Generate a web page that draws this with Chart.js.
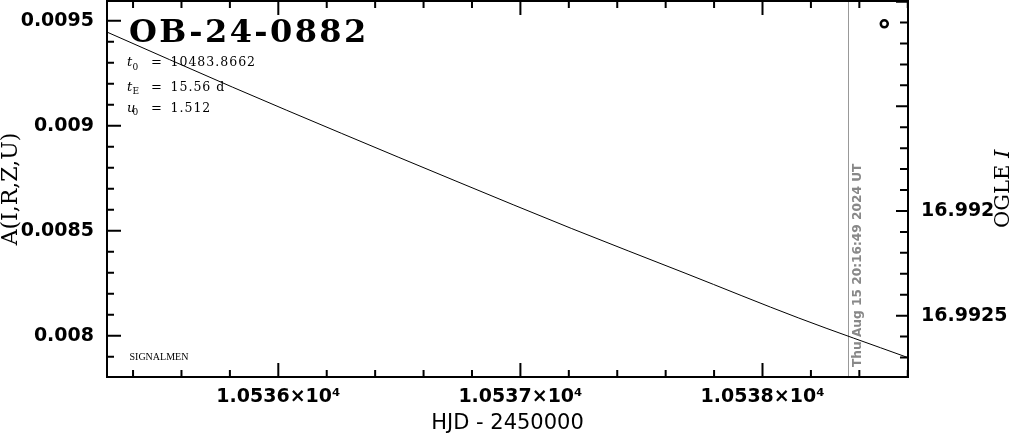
<!DOCTYPE html>
<html>
<head>
<meta charset="utf-8">
<script src="https://cdn.jsdelivr.net/npm/chart.js@4/dist/chart.umd.min.js"></script>
<style>
  html, body { margin: 0; padding: 0; background: #fff; }
  #wrap { width: 1011px; height: 434px; }
</style>
</head>
<body>
<div id="wrap"><canvas id="lc" width="1011" height="434"></canvas></div>
<script>
// model light curve (HJD - 2450000 vs A)
const hjd = [10535.29, 10535.81, 10536.26, 10536.73, 10537.21, 10537.68, 10538.15, 10538.60];
const amp = [0.009447, 0.009184, 0.008964, 0.008738, 0.008511, 0.008298, 0.008084, 0.007896];

// the single OGLE point in the window
const obsHjd = [10538.503];
const obsAmp = [0.009485];

// time of the plot (grey marker)
const nowHjd = 10538.354;
const nowLabel = 'Thu Aug 15 20:16:49 2024 UT';

// axes
const xMajor = [10536, 10537, 10538];
const xLabels = ['1.0536×10⁴', '1.0537×10⁴', '1.0538×10⁴'];
const yMajor = [0.008, 0.0085, 0.009, 0.0095];
const yLabels = ['0.008', '0.0085', '0.009', '0.0095'];
const magMajor = [16.992, 16.9925];
const magLabels = ['16.992', '16.9925'];

const eventName = 'OB-24-0882';
const params = [
  { sym: 't', sub: '0', val: '10483.8662' },
  { sym: 't', sub: 'E', val: '15.56 d' },
  { sym: 'u', sub: '0', val: '1.512' },
];

Chart.defaults.font.family = '"DejaVu Sans"';
Chart.defaults.color = '#000';

const tickFont = { family: '"DejaVu Sans"', size: 19, weight: 'bold' };

// no overhang padding, so the plot box fills the given area
const noPad = s => { s.paddingTop = 0; s.paddingBottom = 0; s.paddingLeft = 0; s.paddingRight = 0; };

// pgplot-like frame, inward ticks and annotations
const framePlugin = {
  id: 'frame',
  beforeDatasetsDraw(chart) {
    const { ctx, chartArea: a, scales } = chart;
    const xp = scales.x.getPixelForValue(nowHjd);
    ctx.save();
    ctx.strokeStyle = '#999';
    ctx.lineWidth = 1;
    ctx.beginPath();
    ctx.moveTo(Math.round(xp) + 0.5, a.top);
    ctx.lineTo(Math.round(xp) + 0.5, a.bottom);
    ctx.stroke();

    ctx.translate(xp + 12.5, a.bottom - 10);
    ctx.rotate(-Math.PI / 2);
    ctx.fillStyle = '#888';
    ctx.font = 'bold 12.2px "DejaVu Sans"';
    ctx.textBaseline = 'alphabetic';
    ctx.textAlign = 'left';
    ctx.fillText(nowLabel, 0, 0);
    ctx.restore();
  },
  afterDraw(chart) {
    const { ctx, chartArea: a, scales } = chart;
    const x = scales.x, y = scales.y, m = scales.mag;
    ctx.save();
    ctx.strokeStyle = '#000';
    ctx.lineWidth = 2;
    ctx.strokeRect(a.left, a.top, a.right - a.left, a.bottom - a.top);

    ctx.beginPath();
    // x ticks, top and bottom
    for (let i = Math.ceil(x.min / 0.2); i * 0.2 <= x.max; i++) {
      const v = i * 0.2;
      const major = Math.abs(v - Math.round(v)) < 1e-6;
      const len = major ? 14 : 7;
      const p = x.getPixelForValue(v);
      ctx.moveTo(p, a.bottom); ctx.lineTo(p, a.bottom - len);
      ctx.moveTo(p, a.top); ctx.lineTo(p, a.top + len);
    }
    // left ticks
    for (let i = Math.ceil(y.min / 0.0001); i * 0.0001 <= y.max; i++) {
      const v = i * 0.0001;
      const major = i % 5 === 0;
      const p = y.getPixelForValue(v);
      ctx.moveTo(a.left, p); ctx.lineTo(a.left + (major ? 14 : 7), p);
    }
    // right ticks (magnitude)
    for (let i = Math.ceil(m.min / 0.0001 - 1e-6); i * 0.0001 <= m.max; i++) {
      const v = i * 0.0001;
      const major = i % 5 === 0;
      const p = m.getPixelForValue(v);
      ctx.moveTo(a.right, p); ctx.lineTo(a.right - (major ? 12 : 8), p);
    }
    ctx.stroke();

    // event name
    ctx.fillStyle = '#000';
    ctx.textBaseline = 'alphabetic';
    ctx.textAlign = 'left';
    ctx.font = 'bold 32px "DejaVu Serif"';
    ctx.letterSpacing = '2.4px';
    ctx.fillText(eventName, 129, 42);

    // fit parameters
    const rows = [66, 90.5, 111.5];
    params.forEach((p, i) => {
      const b = rows[i];
      ctx.letterSpacing = '0px';
      ctx.font = 'italic 13px "DejaVu Serif"';
      ctx.fillText(p.sym, 127, b);
      ctx.font = '9px "DejaVu Serif"';
      ctx.fillText(p.sub, 132.5, b + 3.5);
      ctx.font = '13px "DejaVu Serif"';
      ctx.fillText('=', 151, b);
      ctx.letterSpacing = '1px';
      ctx.font = '12.5px "DejaVu Serif"';
      ctx.fillText(p.val, 170.5, b);
    });
    ctx.letterSpacing = '0px';

    ctx.font = '10px "Liberation Serif"';
    ctx.fillText('SIGNALMEN', 129.5, 359.5);

    // right axis title
    ctx.save();
    ctx.translate(1009, 228);
    ctx.rotate(-Math.PI / 2);
    ctx.font = '21px "DejaVu Serif"';
    ctx.fillText('OGLE ', 0, 0);
    const w = ctx.measureText('OGLE ').width;
    ctx.font = 'italic 21px "DejaVu Serif"';
    ctx.fillText('I', w, 0);
    ctx.restore();

    ctx.restore();
  }
};

new Chart(document.getElementById('lc'), {
  type: 'line',
  data: {
    datasets: [
      {
        label: 'model',
        data: hjd.map((t, i) => ({ x: t, y: amp[i] })),
        borderColor: '#000',
        borderWidth: 1,
        pointRadius: 0,
        fill: false,
        cubicInterpolationMode: 'monotone',
        yAxisID: 'y',
      },
      {
        label: 'OGLE',
        type: 'scatter',
        data: obsHjd.map((t, i) => ({ x: t, y: obsAmp[i] })),
        borderColor: '#000',
        backgroundColor: '#fff',
        borderWidth: 2.5,
        pointRadius: 3.5,
        pointStyle: 'circle',
        yAxisID: 'y',
      },
    ],
  },
  options: {
    responsive: false,
    animation: false,
    events: [],
    layout: { autoPadding: false, padding: { top: 1, left: 0, right: 0, bottom: 0 } },
    plugins: { legend: { display: false }, tooltip: { enabled: false } },
    scales: {
      x: {
        type: 'linear',
        position: 'bottom',
        min: 10535.2924,
        max: 10538.601,
        bounds: 'data',
        grid: { display: false, drawTicks: false },
        border: { display: false },
        afterBuildTicks: s => { s.ticks = xMajor.map(v => ({ value: v })); },
        afterFit: s => { s.height = 57; noPad(s); },
        ticks: {
          font: tickFont,
          padding: 9,
          maxRotation: 0,
          autoSkip: false,
          callback: v => xLabels[xMajor.indexOf(v)] ?? '',
        },
        title: {
          display: true,
          text: 'HJD - 2450000',
          font: { family: '"DejaVu Sans"', size: 21, lineHeight: 1 },
          padding: { top: 0, bottom: 0 },
        },
      },
      y: {
        type: 'linear',
        position: 'left',
        min: 0.0078033,
        max: 0.0095938,
        bounds: 'data',
        grid: { display: false, drawTicks: false },
        border: { display: false },
        afterBuildTicks: s => { s.ticks = yMajor.map(v => ({ value: v })); },
        afterFit: s => { s.width = 107; noPad(s); },
        ticks: {
          font: tickFont,
          padding: 13,
          autoSkip: false,
          callback: v => yLabels[yMajor.indexOf(v)] ?? '',
        },
        title: {
          display: true,
          text: 'A(I,R,Z,U)',
          font: { family: '"DejaVu Serif"', size: 22, lineHeight: 1 },
          padding: { top: 0, bottom: 0 },
        },
      },
      mag: {
        type: 'linear',
        position: 'right',
        reverse: true,
        min: 16.990997,
        max: 16.992793,
        bounds: 'data',
        grid: { display: false, drawTicks: false },
        border: { display: false },
        afterBuildTicks: s => { s.ticks = magMajor.map(v => ({ value: v })); },
        afterFit: s => { s.width = 103; noPad(s); },
        ticks: {
          font: tickFont,
          padding: 13,
          autoSkip: false,
          callback: v => magLabels[magMajor.indexOf(v)] ?? '',
        },
      },
    },
  },
  plugins: [framePlugin],
});
</script>
</body>
</html>
